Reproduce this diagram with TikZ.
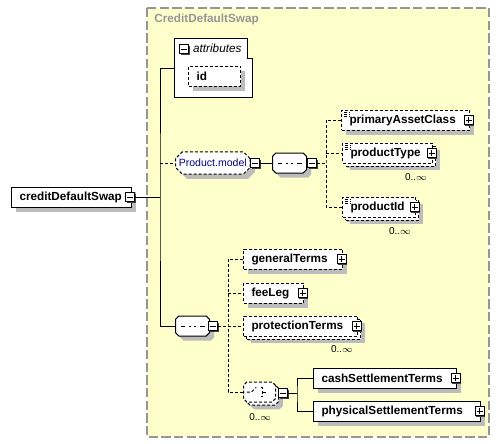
\documentclass[tikz,border=0pt]{standalone}
\usepackage{fontspec}
\setmainfont{Liberation Sans}
\usepackage{tikz}
\usetikzlibrary{shapes.misc, shadows, calc}
\definecolor{yellowbg}{RGB}{255,255,204}
\definecolor{framegray}{RGB}{150,150,150}
\definecolor{shadowgray}{RGB}{188,188,188}
\definecolor{modelblue}{RGB}{0,0,128}

\begin{document}
\fontsize{8.8}{10}\selectfont
\begin{tikzpicture}[x=0.75pt, y=-0.75pt, line width=0.75pt]
\tikzstyle{shade} = [drop shadow={shadow xshift=3.5pt, shadow yshift=-3.5pt, fill=shadowgray, opacity=1}];
\tikzstyle{elem} = [draw, fill=white, minimum height=15pt, inner xsep=6pt, align=left, anchor=west, font=\bfseries, shade];
\tikzstyle{opt} = [dash pattern=on 2.25pt off 1.5pt];
\tikzstyle{multi} = [drop shadow={shadow xshift=5.5pt, shadow yshift=-5.5pt, fill=shadowgray, opacity=1}, copy shadow={shadow xshift=2.25pt, shadow yshift=-2.25pt}];
\tikzstyle{listicon} = [path picture={\foreach \k in {1.5,3,4.5} \draw[line width=0.5pt] ([xshift=1.5pt,yshift=-\k pt]path picture bounding box.north west) -- ++(4pt,0);}];
\tikzstyle{group} = [chamfered rectangle, chamfered rectangle xsep=2.5pt, chamfered rectangle ysep=2.5pt, draw, fill=white, minimum height=15pt, anchor=west, inner xsep=0pt, shade];
\tikzstyle{seq} = [chamfered rectangle, chamfered rectangle xsep=2.5pt, chamfered rectangle ysep=2.5pt, draw, fill=white, minimum height=15pt, minimum width=25.5pt, inner xsep=0pt, anchor=west, shade,
  path picture={\draw[shift={(path picture bounding box.center)}] (-9pt,0) -- (9pt,0);
    \foreach \d in {-4,0,4} \fill[shift={(path picture bounding box.center)}] (\d pt-1.4pt,-1.3pt) rectangle (\d pt+1.4pt,1.3pt);}];
\tikzstyle{choiceicon} = [path picture={\draw[shift={(path picture bounding box.center)}] (-9.5pt,0) -- (-6pt,0) -- (-2.5pt,3.5pt);
    \foreach \d in {-2.6,0,2.6} \fill[shift={(path picture bounding box.center)}] (-2pt,\d pt-1pt) rectangle (0.2pt,\d pt+1pt);
    \draw[shift={(path picture bounding box.center)}] (1pt,3.2pt) -- (2.5pt,3.2pt) -- (2.5pt,-3.2pt) -- (1pt,-3.2pt) (2.5pt,0) -- (6pt,0);}];
\tikzstyle{boxbase} = [draw, fill=white, minimum size=6.75pt, inner sep=0pt, drop shadow={shadow xshift=0.9pt, shadow yshift=-0.9pt, fill=black!75, opacity=1}];
\tikzstyle{minusbox} = [boxbase, path picture={\draw[shift={(path picture bounding box.center)}] (-2.25pt,0) -- (2.25pt,0);}];
\tikzstyle{plusbox} = [boxbase, path picture={\draw[shift={(path picture bounding box.center)}] (-2.25pt,0) -- (2.25pt,0) (0,-2.25pt) -- (0,2.25pt);}];
\tikzstyle{mult} = [font=\fontsize{7.5}{9}\selectfont, inner sep=0pt];

\useasboundingbox (0,0) rectangle (503,443);

% complex type frame
\draw[framegray, line width=1.2pt, dash pattern=on 7pt off 2.5pt, fill=yellowbg] (147,8) rectangle (489,437);
\node[anchor=west, text=framegray, font=\bfseries] (title) at (150,19) {CreditDefaultSwap};

% root element
\node[elem, text width=78pt] (cds) at (11,197) {creditDefaultSwap};
\node[minusbox] (cdsm) at (130,197) {};

% attributes
\draw[fill=white] (174,38) -- (247,38) -- (247,58) -- (252,58) -- (252,97) -- (174,97) -- cycle;
\node[minusbox] (attrm) at (184,49) {};
\node[anchor=west, font=\itshape, inner sep=2pt] (attrlbl) at (190,48) {attributes};
\node[elem, opt, text width=27pt] (id) at (188,76) {id};
\coordinate (attrin) at (174,68);
\coordinate (trunk) at (160,197);

% Product.model group
\node[group, opt, minimum width=55.5pt, text=modelblue, font=\fontsize{7.9}{9}\selectfont] (pmodel) at (175,163) {Product.model};
\node[minusbox] (pmodelm) at (255,163) {};
\node[seq] (seqA) at (272,163) {};
\node[minusbox] (seqAm) at (312,163) {};
\coordinate (forkA) at (326,163);

\node[elem, opt, listicon, text width=84pt] (pac) at (341,120) {primaryAssetClass};
\node[plusbox] (pacp) at ([xshift=-1pt]pac.east) {};
\node[elem, opt, multi, listicon, text width=55.5pt] (ptype) at (342,153) {productType};
\node[plusbox] (ptypep) at ([xshift=-1pt]ptype.east) {};
\node[mult] (ptypen) at ($(ptype.south east)+(-17,14)$) {0..$\infty$};
\node[elem, opt, multi, listicon, text width=42.75pt] (pid) at (342,207) {productId};
\node[plusbox] (pidp) at ([xshift=-1pt]pid.east) {};
\node[mult] (pidn) at ($(pid.south east)+(-16,14)$) {0..$\infty$};

% main sequence
\node[seq] (seqB) at (175,326) {};
\node[minusbox] (seqBm) at (213,326) {};
\coordinate (forkB) at (228,326);

\node[elem, opt, text width=62.25pt] (gen) at (243,259) {generalTerms};
\node[plusbox] (genp) at ([xshift=-1pt]gen.east) {};
\node[elem, opt, text width=33pt] (fee) at (243,293) {feeLeg};
\node[plusbox] (feep) at ([xshift=-1pt]fee.east) {};
\node[elem, opt, multi, text width=73.5pt] (prot) at (243,326) {protectionTerms};
\node[plusbox] (protp) at ([xshift=-1pt]prot.east) {};
\node[mult] (protn) at ($(prot.south east)+(-16,13)$) {0..$\infty$};

% settlement choice
\node[group, opt, multi, choiceicon, minimum width=24pt] (choice) at (243,392) {};
\node[minusbox] (choicem) at (283,393) {};
\node[mult] (choicen) at ($(choice.south east)+(-14,16)$) {0..$\infty$};
\coordinate (forkC) at (297,393);
\node[elem, text width=95.25pt] (cash) at (313,378) {cashSettlementTerms};
\node[plusbox] (cashp) at ([xshift=-1pt]cash.east) {};
\node[elem, text width=113.25pt] (phys) at (313,411) {physicalSettlementTerms};
\node[plusbox] (physp) at ([xshift=-1pt]phys.east) {};

% connectors
\draw (cdsm.east) -- (trunk);
\draw (attrin) -| (trunk) |- (seqB.west);
\draw[opt] (trunk |- pmodel.west) -- (pmodel.west);
\draw (pmodelm.east) -- (seqA.west);
\draw[opt] (seqAm.east) -- (forkA);
\draw[opt] (pac.west) -| (forkA) |- (pid.west);
\draw[opt] (forkA |- ptype.west) -- (ptype.west);
\draw[opt] (seqBm.east) -- (forkB);
\draw[opt] (gen.west) -| (forkB) |- (choice.west);
\draw[opt] (forkB |- fee.west) -- (fee.west);
\draw[opt] (forkB) -- (prot.west);
\draw (choicem.east) -- (forkC);
\draw (cash.west) -| (forkC) |- (phys.west);
\end{tikzpicture}
\end{document}
